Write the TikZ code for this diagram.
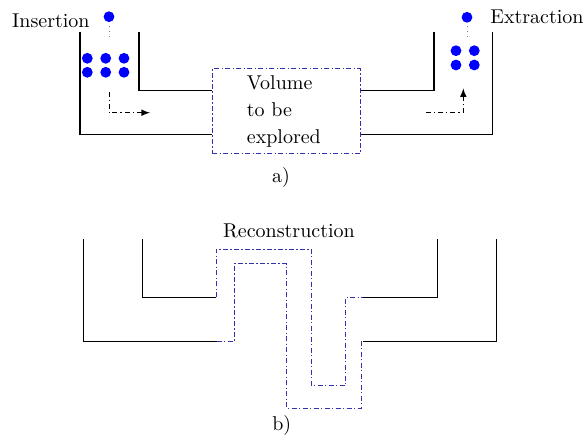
\documentclass[tikz,border=0pt]{standalone}
\usetikzlibrary{positioning}
\definecolor{probeblue}{RGB}{0,0,255}
\definecolor{zoneblue}{RGB}{50,50,175}
\tikzset{
    wall/.style={line width=0.55pt},
    zone/.style={draw=zoneblue, dash pattern=on 2.5pt off 1.2pt on 0.6pt off 1.2pt, line width=0.5pt},
    flow/.style={-latex, dash pattern=on 2.5pt off 1.5pt on 0.6pt off 1.5pt, line width=0.5pt},
    tether/.style={gray, dotted, line width=0.5pt},
}
\begin{document}
\begin{tikzpicture}[x=0.5pt,y=-0.5pt]
        \useasboundingbox (0,0) rectangle (585,438);
        % a) setup
        \node[zone, minimum width=74pt, minimum height=42.5pt, inner sep=0pt]
            (vol) at (286.2,111.5) {};
        \node[anchor=north west, align=left, inner sep=0pt] (voltxt) at (246.5,75)
            {Volume\\[1.5pt]to be\\[1.5pt]explored};
        \draw[wall] (80,32) -- (80,134.5) -- (vol.west |- {0,134.5});
        \draw[wall] (139,32) -- (139,90.3) -- (vol.west |- {0,90.3});
        \draw[wall] (vol.east |- {0,90.3}) -- (434,90.3) -- (434,32);
        \draw[wall] (vol.east |- {0,134.5}) -- (492.7,134.5) -- (492.7,32);
        \node[anchor=base east, inner sep=0pt] (ins) at (90,28) {Insertion};
        \node[anchor=base west, inner sep=0pt] (ext) at (490,24) {Extraction};
        \fill[probeblue] (109,16.7) circle[radius=2.7pt];
        \fill[probeblue] (467,17.3) circle[radius=2.7pt];
        \draw[tether] (109,26) -- (109,40);
        \draw[tether] (467,26) -- (467,40);
        \foreach \x in {87.3,105.7,124}
            \foreach \y in {58.3,72.3}
                \fill[probeblue] (\x,\y) circle[radius=2.7pt];
        \foreach \x in {456,474.3}
            \foreach \y in {50.7,65}
                \fill[probeblue] (\x,\y) circle[radius=2.7pt];
        \draw[flow] (109,91.7) -- (109,112.7) -- (150,112.7);
        \draw[flow] (426,112.7) -- (463.3,112.7) -- (463.3,88.3);
        \node (capa) at (281,178) {a)};
        % b) reconstruction
        \draw[wall] (83.3,239) -- (83.3,341.7) -- (216.7,341.7);
        \draw[wall] (142.3,239) -- (142.3,297.3) -- (216,297.3);
        \draw[wall] (363.3,297.3) -- (437.7,297.3) -- (437.7,239);
        \draw[wall] (363.3,341.7) -- (496.7,341.7) -- (496.7,239);
        \draw[zone] (216,297.3) -- (216,249.3) -- (311.7,249.3) -- (311.7,385.7)
            -- (345.7,385.7) -- (345.7,297.3) -- (363.3,297.3);
        \draw[zone] (216.7,341.7) -- (234,341.7) -- (234,264) -- (286.7,264)
            -- (286.7,408.3) -- (361,408.3) -- (361,341.7) -- (363.3,341.7);
        \node (rec) at (289,231) {Reconstruction};
        \node (capb) at (281.7,426) {b)};
    \end{tikzpicture}
\end{document}
